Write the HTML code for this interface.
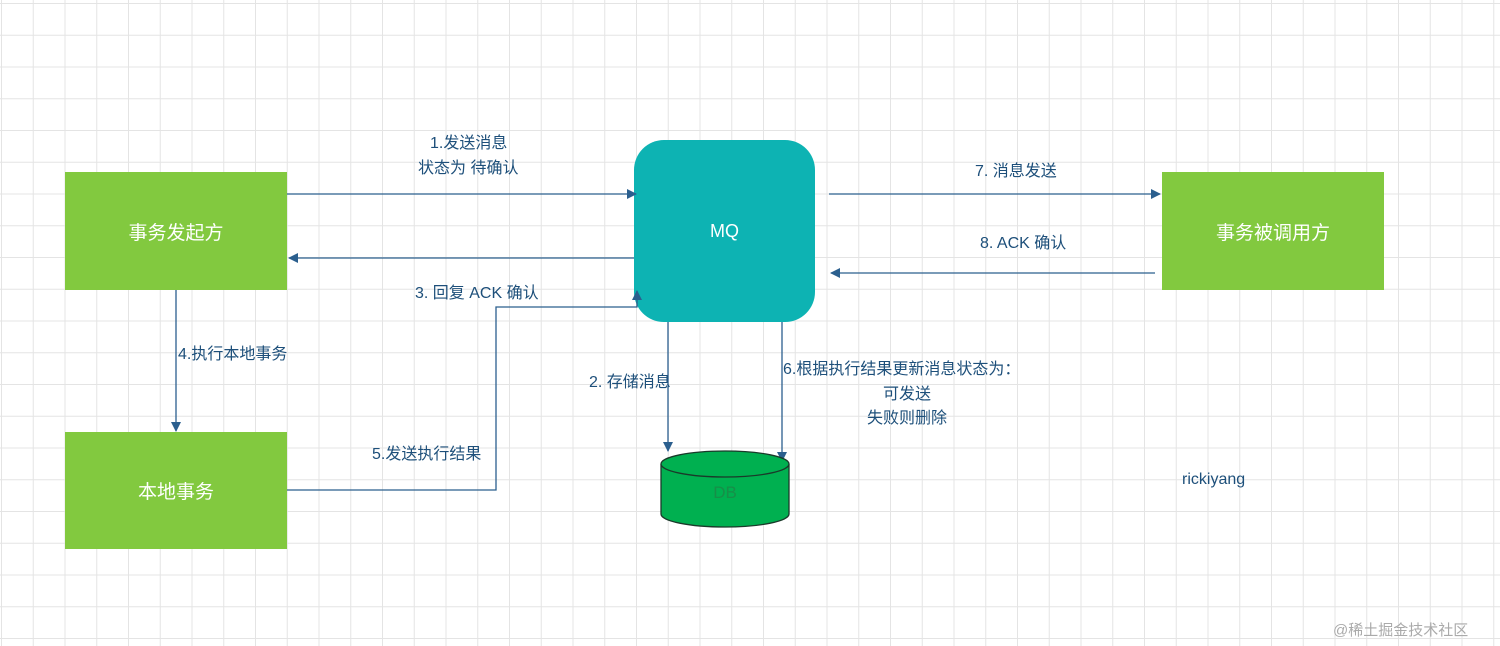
<!DOCTYPE html>
<html><head><meta charset="utf-8"><style>
html,body{margin:0;padding:0}
body{width:1500px;height:646px;position:relative;overflow:hidden;background-color:#fff;
background-image:linear-gradient(to right,#e4e4e4 1px,transparent 1px),linear-gradient(to bottom,#e4e4e4 1px,transparent 1px);
background-size:31.75px 31.75px;background-position:1px 3px;
font-family:"Liberation Sans","Noto Sans CJK SC",sans-serif}
.t{position:absolute;font-size:16px;color:#1d4f7a;white-space:nowrap;line-height:20px}
.box{position:absolute;background:#82c93f;color:#fff;font-size:19px;display:flex;align-items:center;justify-content:center}
</style></head><body>
<div class="box" style="left:65px;top:172px;width:222px;height:118px">事务发起方</div>
<div class="box" style="left:65px;top:432px;width:222px;height:117px">本地事务</div>
<div class="box" style="left:1162px;top:172px;width:222px;height:118px">事务被调用方</div>
<div class="box" style="left:634px;top:140px;width:181px;height:182px;background:#0db3b3;border-radius:30px;font-size:18px">MQ</div>
<svg width="1500" height="646" style="position:absolute;left:0;top:0">
<defs><marker id="a" markerWidth="10" markerHeight="10" refX="9" refY="5" orient="auto" markerUnits="userSpaceOnUse"><path d="M0,0 L10,5 L0,10 Z" fill="#2b5f8e"/></marker></defs>
<g stroke="#2b5f8e" stroke-width="1.3" fill="none">
<line x1="287" y1="194" x2="636" y2="194" marker-end="url(#a)"/>
<line x1="634" y1="258" x2="289" y2="258" marker-end="url(#a)"/>
<polyline points="287,490 496,490 496,307 637,307 637,291" marker-end="url(#a)"/>
<line x1="176" y1="290" x2="176" y2="431" marker-end="url(#a)"/>
<line x1="668" y1="322" x2="668" y2="451" marker-end="url(#a)"/>
<line x1="782" y1="322" x2="782" y2="461" marker-end="url(#a)"/>
<line x1="829" y1="194" x2="1160" y2="194" marker-end="url(#a)"/>
<line x1="1155" y1="273" x2="831" y2="273" marker-end="url(#a)"/>
</g>
<path d="M661,464 L661,514 A64,13 0 0 0 789,514 L789,464" fill="#00b050" stroke="#1a3a2a" stroke-width="1.3"/>
<ellipse cx="725" cy="464" rx="64" ry="13" fill="#00b050" stroke="#1a3a2a" stroke-width="1.3"/>
<text x="725" y="498" text-anchor="middle" font-size="17" fill="#168f48" font-family="Liberation Sans">DB</text>
</svg>
<div class="t" style="left:430px;top:134px">1.发送消息</div>
<div class="t" style="left:418px;top:159px">状态为 待确认</div>
<div class="t" style="left:415px;top:284px">3. 回复 ACK 确认</div>
<div class="t" style="left:178px;top:345px">4.执行本地事务</div>
<div class="t" style="left:589px;top:373px">2. 存储消息</div>
<div class="t" style="left:783px;top:360px">6.根据执行结果更新消息状态为：</div>
<div class="t" style="left:883px;top:385px">可发送</div>
<div class="t" style="left:867px;top:409px">失败则删除</div>
<div class="t" style="left:372px;top:445px">5.发送执行结果</div>
<div class="t" style="left:975px;top:162px">7. 消息发送</div>
<div class="t" style="left:980px;top:234px">8. ACK 确认</div>
<div class="t" style="left:1182px;top:470px">rickiyang</div>
<div class="t" style="left:1333px;top:621px;color:#aaa;font-size:15px">@稀土掘金技术社区</div>
</body></html>
